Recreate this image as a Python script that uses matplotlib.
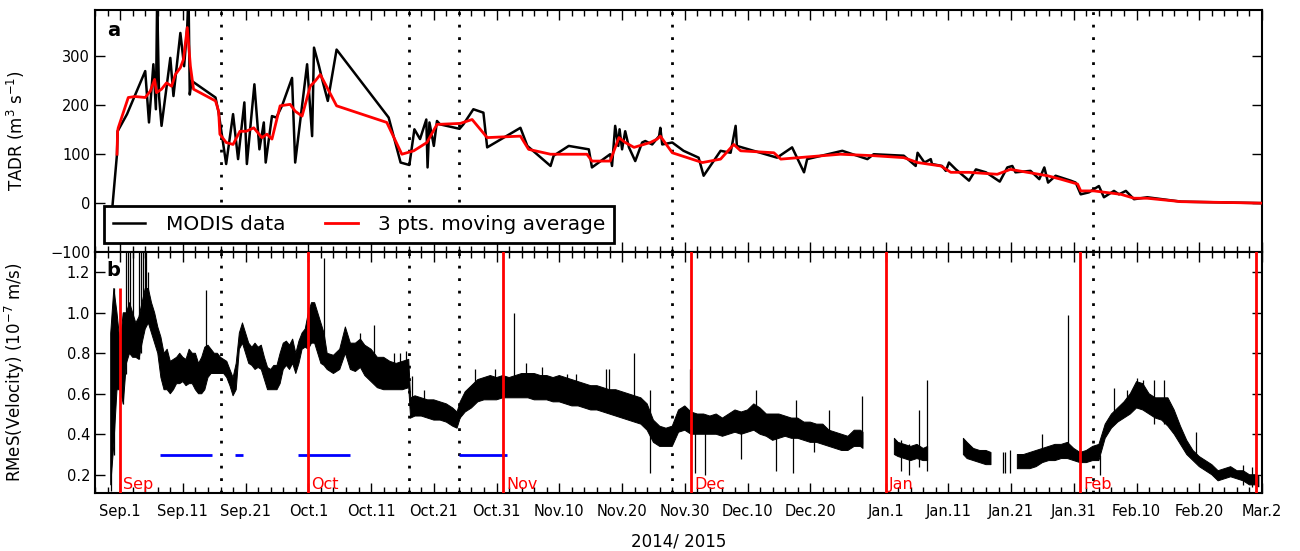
import numpy as np
import matplotlib
matplotlib.use('Agg')
import matplotlib.pyplot as plt
import matplotlib.transforms as mtransforms

# day 0 of the x axis
START = np.datetime64('2014-09-01')

# --- panel a: TADR (m3/s), days counted from Sep 1 2014 ---
modis_day = [-1.25, -0.5, -0.4, 1.1, 4.0, 4.6, 5.3, 5.7, 5.9, 6.2,
             6.6, 8.0, 8.5, 9.6, 10.2, 10.7, 10.9, 11.1, 11.4, 15.2,
             15.7, 16.9, 18.0, 18.8, 19.8, 20.2, 21.4, 22.2, 22.9, 23.2,
             24.2, 24.9, 25.8, 27.4, 27.9, 29.8, 30.6, 30.9, 31.7, 32.2,
             33.1, 34.5, 42.8, 44.7, 46.1, 46.9, 47.8, 48.8, 49.0, 49.3,
             50.0, 50.5, 51.0, 54.1, 54.7, 56.3, 57.9, 58.5, 63.8, 64.9,
             68.6, 69.1, 71.5, 74.7, 75.2, 78.1, 78.4, 78.9, 79.4, 79.6,
             80.0, 80.5, 81.1, 82.1, 83.2, 83.7, 84.8, 85.9, 86.1, 86.4,
             88.0, 89.8, 92.2, 93.0, 95.7, 97.3, 98.1, 98.3, 104.7, 107.1,
             109.0, 109.5, 115.1, 119.1, 120.1, 124.9, 126.8, 127.1, 128.2, 129.2,
             129.4, 131.0, 131.6, 132.1, 133.2, 135.3, 136.4, 138.0, 140.2, 141.4,
             142.2, 142.7, 145.1, 146.5, 147.3, 147.9, 149.1, 151.5, 152.3, 153.1,
             154.4, 156.0, 156.8, 158.4, 159.2, 160.3, 161.6, 163.7, 169.1, 181.9]
modis_val = [-10, 100, 147, 182, 270, 165, 284, 192, 420, 219,
             158, 297, 219, 348, 280, 362, 430, 222, 250, 216,
             185, 80, 182, 90, 206, 80, 243, 110, 165, 83,
             178, 175, 199, 256, 83, 284, 137, 318, 280, 253,
             209, 314, 175, 83, 78, 151, 131, 171, 73, 165,
             117, 168, 161, 152, 161, 192, 185, 114, 154, 117,
             76, 97, 117, 110, 73, 100, 76, 158, 117, 151,
             110, 147, 114, 86, 124, 127, 120, 137, 154, 120,
             124, 107, 93, 56, 107, 103, 158, 117, 93, 114,
             63, 90, 107, 90, 100, 97, 76, 103, 83, 90,
             80, 76, 66, 83, 69, 46, 69, 63, 44, 73,
             76, 63, 66, 49, 73, 42, 56, 46, 42, 18,
             22, 35, 12, 25, 18, 25, 8, 12, 3, 0]

ma_day = [-0.5, -0.4, -0.3, 1.3, 2.4, 4.0, 4.8, 5.5, 5.8, 6.6,
          7.4, 8.2, 8.8, 9.6, 10.1, 10.7, 11.2, 11.7, 15.2, 15.7,
          15.9, 16.9, 18.0, 19.1, 20.1, 21.3, 22.6, 23.4, 24.2, 25.5,
          27.1, 27.9, 29.0, 30.3, 31.1, 31.9, 33.0, 34.5, 42.5, 44.9,
          46.8, 48.9, 50.5, 54.2, 56.1, 58.5, 63.8, 65.1, 68.6, 74.4,
          75.2, 78.1, 79.5, 80.5, 81.9, 84.5, 85.6, 86.1, 88.0, 92.8,
          95.7, 97.8, 98.9, 104.2, 105.3, 114.8, 120.1, 124.9, 127.1, 130.8,
          132.4, 135.3, 139.8, 141.9, 144.6, 147.8, 149.9, 152.6, 153.1, 155.2,
          159.5, 161.6, 163.7, 169.1, 181.9]
ma_val = [100, 147, 154, 216, 218, 216, 229, 253, 226, 233,
          246, 239, 263, 277, 294, 359, 280, 233, 209, 188,
          141, 124, 120, 147, 147, 154, 134, 141, 131, 199,
          202, 188, 178, 239, 250, 263, 236, 199, 165, 100,
          107, 124, 161, 163, 171, 134, 137, 110, 100, 100,
          86, 86, 134, 124, 114, 124, 131, 137, 103, 83,
          90, 120, 107, 103, 90, 100, 97, 93, 83, 76,
          63, 63, 59, 69, 63, 56, 49, 39, 25, 25,
          18, 10, 10, 3, 0]

# --- panel b: RMeS velocity (1e-7 m/s), lower/upper envelope, nan = no data ---
vel_day = [-1.5, -1.0, -0.5, 0.0, 0.5, 1.0, 1.5, 2.0, 2.5, 3.0,
           3.5, 4.0, 4.5, 5.0, 5.5, 6.0, 6.5, 7.0, 7.5, 8.0,
           8.5, 9.0, 9.5, 10.0, 10.5, 11.0, 11.5, 12.0, 12.5, 13.0,
           13.5, 14.0, 14.5, 15.0, 15.5, 16.0, 16.5, 17.0, 17.5, 18.0,
           18.5, 19.0, 19.5, 20.0, 20.5, 21.0, 21.5, 22.0, 22.5, 23.0,
           23.5, 24.0, 24.5, 25.0, 25.5, 26.0, 26.5, 27.0, 27.5, 28.0,
           28.5, 29.0, 29.5, 30.0, 30.5, 31.0, 31.5, 32.0, 32.5, 33.0,
           34.0, 35.0, 35.9, 36.7, 37.5, 38.3, 39.0, 40.0, 41.0, 42.0,
           43.0, 44.0, 45.0, 46.0, 46.3, 47.0, 48.0, 49.0, 50.0, 51.0,
           52.0, 53.0, 53.7, 54.2, 55.0, 56.0, 57.0, 58.0, 59.0, 60.0,
           61.0, 62.0, 63.0, 64.0, 65.0, 66.0, 67.0, 68.0, 69.0, 70.0,
           71.0, 72.0, 73.0, 74.0, 75.0, 76.0, 77.0, 78.0, 79.0, 80.0,
           81.0, 82.0, 83.0, 84.0, 85.0, 86.0, 87.0, 88.0, 89.0, 90.0,
           91.0, 92.0, 93.0, 94.0, 95.0, 96.0, 97.0, 98.0, 99.0, 100.0,
           101.0, 102.0, 103.0, 104.0, 105.0, 106.0, 107.0, 108.0, 109.0, 110.0,
           111.0, 112.0, 113.0, 114.0, 115.0, 116.0, 117.0, 118.0, 118.4, 120.0,
           123.4, 124.0, 125.0, 126.0, 127.0, 128.0, 128.7, 131.0,
           134.4, 135.0, 136.0, 137.0, 138.0, 138.8, 141.0,
           143.0, 144.0, 145.0, 146.0, 147.0, 148.0, 149.0, 150.0, 151.0, 152.0,
           153.0, 154.0, 155.0, 156.0, 157.0, 158.0, 159.0, 160.0, 161.0, 162.0,
           163.0, 164.0, 165.0, 166.0, 167.0, 168.0, 169.0, 170.0, 171.0, 172.0,
           173.0, 174.0, 175.0, 176.0, 177.0, 178.0, 179.0, 180.0, 181.0, 181.5]
vel_lo = [0.15, 0.35, 0.62, 0.62, 0.55, 0.75, 0.80, 0.78, 0.78, 0.77,
          0.85, 0.92, 0.95, 0.90, 0.85, 0.80, 0.68, 0.62, 0.62, 0.60,
          0.62, 0.65, 0.65, 0.66, 0.64, 0.65, 0.65, 0.62, 0.60, 0.60,
          0.62, 0.68, 0.70, 0.70, 0.70, 0.70, 0.70, 0.68, 0.64, 0.59,
          0.62, 0.82, 0.85, 0.80, 0.75, 0.74, 0.72, 0.73, 0.72, 0.67,
          0.62, 0.62, 0.62, 0.62, 0.65, 0.72, 0.74, 0.72, 0.75, 0.70,
          0.75, 0.82, 0.83, 0.82, 0.85, 0.85, 0.80, 0.75, 0.74, 0.72,
          0.70, 0.72, 0.80, 0.72, 0.71, 0.73, 0.69, 0.66, 0.63, 0.62,
          0.62, 0.62, 0.62, 0.63, 0.48, 0.49, 0.49, 0.48, 0.47, 0.47,
          0.46, 0.44, 0.43, 0.48, 0.51, 0.53, 0.56, 0.57, 0.57, 0.57,
          0.58, 0.58, 0.58, 0.58, 0.58, 0.57, 0.57, 0.57, 0.56, 0.56,
          0.55, 0.54, 0.54, 0.53, 0.52, 0.52, 0.51, 0.50, 0.49, 0.48,
          0.47, 0.46, 0.45, 0.42, 0.36, 0.34, 0.34, 0.34, 0.41, 0.42,
          0.40, 0.40, 0.40, 0.40, 0.40, 0.39, 0.40, 0.41, 0.40, 0.41,
          0.42, 0.40, 0.39, 0.37, 0.38, 0.39, 0.38, 0.38, 0.37, 0.36,
          0.36, 0.35, 0.34, 0.33, 0.32, 0.32, 0.34, 0.34, 0.33, np.nan,
          0.30, 0.29, 0.28, 0.27, 0.28, 0.27, 0.27, np.nan,
          0.30, 0.28, 0.27, 0.26, 0.25, 0.25, np.nan,
          0.23, 0.23, 0.23, 0.24, 0.26, 0.27, 0.27, 0.28, 0.28, 0.27,
          0.26, 0.26, 0.27, 0.27, 0.38, 0.43, 0.46, 0.48, 0.50, 0.53,
          0.52, 0.50, 0.48, 0.47, 0.44, 0.40, 0.35, 0.30, 0.27, 0.24,
          0.22, 0.20, 0.17, 0.18, 0.19, 0.18, 0.17, 0.15, 0.15, 0.14]
vel_hi = [0.90, 1.12, 1.00, 0.85, 1.00, 1.00, 1.05, 1.00, 0.95, 0.98,
          1.05, 1.12, 1.12, 1.05, 1.00, 0.93, 0.88, 0.80, 0.82, 0.76,
          0.77, 0.78, 0.80, 0.78, 0.77, 0.82, 0.80, 0.80, 0.75, 0.78,
          0.83, 0.84, 0.82, 0.80, 0.80, 0.78, 0.77, 0.76, 0.72, 0.68,
          0.75, 0.90, 0.95, 0.90, 0.85, 0.83, 0.85, 0.83, 0.84, 0.78,
          0.73, 0.72, 0.74, 0.74, 0.80, 0.85, 0.86, 0.84, 0.87, 0.80,
          0.86, 0.90, 0.92, 1.00, 1.05, 1.05, 1.00, 0.95, 0.90, 0.80,
          0.79, 0.82, 0.93, 0.85, 0.85, 0.87, 0.84, 0.82, 0.78, 0.78,
          0.76, 0.75, 0.76, 0.77, 0.58, 0.59, 0.58, 0.57, 0.57, 0.56,
          0.55, 0.53, 0.51, 0.56, 0.61, 0.64, 0.67, 0.68, 0.69, 0.68,
          0.69, 0.68, 0.69, 0.70, 0.70, 0.70, 0.69, 0.69, 0.68, 0.69,
          0.68, 0.67, 0.66, 0.65, 0.64, 0.64, 0.63, 0.62, 0.62, 0.61,
          0.60, 0.59, 0.58, 0.55, 0.47, 0.44, 0.43, 0.44, 0.52, 0.54,
          0.51, 0.50, 0.50, 0.49, 0.50, 0.48, 0.50, 0.52, 0.51, 0.52,
          0.55, 0.53, 0.50, 0.50, 0.50, 0.49, 0.48, 0.48, 0.46, 0.46,
          0.45, 0.45, 0.42, 0.41, 0.40, 0.39, 0.42, 0.42, 0.41, np.nan,
          0.38, 0.36, 0.35, 0.34, 0.35, 0.33, 0.34, np.nan,
          0.38, 0.36, 0.33, 0.32, 0.32, 0.31, np.nan,
          0.30, 0.30, 0.31, 0.32, 0.33, 0.34, 0.35, 0.35, 0.36, 0.33,
          0.31, 0.32, 0.34, 0.35, 0.45, 0.50, 0.53, 0.56, 0.60, 0.66,
          0.65, 0.60, 0.58, 0.58, 0.58, 0.52, 0.44, 0.37, 0.32, 0.29,
          0.27, 0.25, 0.22, 0.23, 0.24, 0.22, 0.22, 0.20, 0.20, 0.19]

# isolated spikes in the velocity record
spike_day = [-1.4, -0.9, 0.4, 1.0, 1.3, 1.6, 2.0, 3.0, 3.3, 3.6,
             3.9, 4.1, 4.4, 13.7, 32.5, 38.3, 40.5, 43.6, 44.6, 45.6,
             46.5, 48.5, 56.5, 59.8, 62.7, 64.7, 67.3, 71.3, 72.6, 77.4,
             77.9, 81.9, 84.5, 90.8, 91.7, 93.2, 99.0, 101.4, 104.6, 107.2,
             107.7, 110.6, 113.0, 118.3, 124.5, 125.8, 127.4, 128.6, 140.7, 141.1,
             141.9, 146.9, 151.1, 156.2, 158.4, 160.5, 162.0, 163.0, 164.8, 166.3,
             171.4, 179.0, 180.4]
spike_lo = [0.12, 0.30, 0.55, 0.70, 0.80, 0.80, 0.85, 0.77, 0.80, 0.90,
            0.95, 0.95, 0.95, 0.70, 0.85, 0.80, 0.70, 0.70, 0.68, 0.70,
            0.50, 0.50, 0.60, 0.60, 0.62, 0.60, 0.60, 0.60, 0.58, 0.55,
            0.55, 0.50, 0.21, 0.45, 0.21, 0.20, 0.28, 0.45, 0.22, 0.21,
            0.45, 0.31, 0.40, 0.35, 0.22, 0.20, 0.24, 0.22, 0.21, 0.21,
            0.21, 0.30, 0.30, 0.20, 0.45, 0.50, 0.55, 0.55, 0.45, 0.45,
            0.28, 0.15, 0.14]
spike_hi = [0.90, 1.12, 1.00, 1.30, 1.30, 1.30, 1.30, 1.30, 1.30, 1.30,
            1.30, 1.30, 1.20, 1.11, 1.27, 0.90, 0.94, 0.80, 0.80, 0.81,
            0.69, 0.62, 0.72, 0.72, 1.00, 0.75, 0.73, 0.70, 0.70, 0.72,
            0.72, 0.80, 0.62, 0.72, 0.45, 0.45, 0.45, 0.62, 0.42, 0.42,
            0.57, 0.42, 0.52, 0.59, 0.37, 0.35, 0.52, 0.67, 0.31, 0.31,
            0.32, 0.40, 0.99, 0.30, 0.63, 0.62, 0.68, 0.67, 0.67, 0.67,
            0.41, 0.25, 0.24]

# blue bars at 0.3 (start day, end day)
bar_start = [6.3, 18.3, 28.3, 54.0]
bar_end = [14.7, 19.6, 36.7, 61.7]

tick_dates = ['2014-09-01', '2014-09-11', '2014-09-21', '2014-10-01', '2014-10-11',
              '2014-10-21', '2014-10-31', '2014-11-10', '2014-11-20', '2014-11-30',
              '2014-12-10', '2014-12-20', '2015-01-01', '2015-01-11', '2015-01-21',
              '2015-01-31', '2015-02-10', '2015-02-20', '2015-03-02']
tick_labels = ['Sep.1', 'Sep.11', 'Sep.21', 'Oct.1', 'Oct.11', 'Oct.21', 'Oct.31',
               'Nov.10', 'Nov.20', 'Nov.30', 'Dec.10', 'Dec.20', 'Jan.1', 'Jan.11',
               'Jan.21', 'Jan.31', 'Feb.10', 'Feb.20', 'Mar.2']

month_dates = ['2014-09-01', '2014-10-01', '2014-11-01', '2014-12-01',
               '2015-01-01', '2015-02-01', '2015-03-01']
month_labels = ['Sep', 'Oct', 'Nov', 'Dec', 'Jan', 'Feb', '']

event_dates = ['2014-09-17', '2014-10-17', '2014-10-25', '2014-11-28', '2015-02-03']


def to_day(fechas):
    return (np.array(fechas, dtype='datetime64[D]') - START).astype(float)


def style_axis(ax):
    ax.set_xlim(-4, 182)
    ax.set_xticks(to_day(tick_dates))
    ax.set_xticks(np.arange(-4, 183, 2), minor=True)
    ax.tick_params(which='both', direction='in', top=True, right=True,
                   labelsize=10.5, width=1)
    ax.tick_params(which='major', length=7)
    ax.tick_params(which='minor', length=4)
    ax.tick_params(axis='x', pad=8)
    for s in ax.spines.values():
        s.set_linewidth(1.5)
    for d in to_day(event_dates):
        ax.axvline(d, color='black', lw=2, linestyle=(0, (1, 3.5)), zorder=1)


def panel_a(ax):
    style_axis(ax)
    ax.plot(modis_day, modis_val, color='black', lw=1.8, label='MODIS data', zorder=3)
    ax.plot(ma_day, ma_val, color='red', lw=2, label='3 pts. moving average', zorder=4)
    ax.set_ylim(-100, 395)
    ax.set_yticks([-100, 0, 100, 200, 300])
    ax.set_yticklabels(['\u2212100', '0', '100', '200', '300'])
    ax.set_ylabel('TADR (m$^3$ s$^{-1}$)', fontsize=12)
    ax.yaxis.set_label_coords(-0.058, 0.5)
    ax.tick_params(labelbottom=False)
    ax.text(0.01, 0.955, 'a', transform=ax.transAxes, fontsize=14,
            fontweight='bold', va='top')
    leg = ax.legend(loc='lower left', ncol=2, fontsize=14.5, fancybox=False,
                    framealpha=1, edgecolor='black', borderaxespad=0.45,
                    handlelength=1.6, handletextpad=1.0, columnspacing=2.0,
                    borderpad=0.45)
    leg.get_frame().set_linewidth(2)
    leg.set_zorder(10)


def panel_b(ax):
    style_axis(ax)
    ax.fill_between(vel_day, vel_lo, vel_hi, facecolor='black',
                    edgecolor='black', lw=0.7, zorder=3)
    ax.vlines(spike_day, spike_lo, spike_hi, color='black', lw=0.9, zorder=3)
    ax.hlines([0.3] * len(bar_start), bar_start, bar_end, color='blue', lw=2, zorder=4)
    ax.set_ylim(0.11, 1.30)
    ax.set_yticks([0.2, 0.4, 0.6, 0.8, 1.0, 1.2])
    ax.set_xticklabels(tick_labels)
    ax.set_ylabel('RMeS(Velocity) (10$^{-7}$ m/s)', fontsize=12)
    ax.yaxis.set_label_coords(-0.058, 0.5)
    ax.set_xlabel('2014/ 2015', fontsize=12, labelpad=10)

    trans = mtransforms.blended_transform_factory(ax.transData, ax.transAxes)
    for i, (d, lab) in enumerate(zip(to_day(month_dates), month_labels)):
        if i == 0:
            # first month line only reaches the first burst
            ax.vlines(d, 0.11, 1.12, color='red', lw=2, zorder=5)
        else:
            ax.axvline(d, color='red', lw=2, zorder=5)
        ax.text(d + 0.5, 0.004, lab, color='red', fontsize=11.5,
                transform=trans, va='bottom', ha='left', zorder=6)
    ax.text(0.01, 0.962, 'b', transform=ax.transAxes, fontsize=14,
            fontweight='bold', va='top')


def main():
    fig = plt.figure(figsize=(13, 5.51), dpi=100)
    ax1 = fig.add_axes([0.0731, 0.5426, 0.8977, 0.4393])
    ax2 = fig.add_axes([0.0731, 0.1053, 0.8977, 0.4373])
    panel_a(ax1)
    panel_b(ax2)
    fig.savefig('out.png', dpi=100)


if __name__ == "__main__":
    main()
